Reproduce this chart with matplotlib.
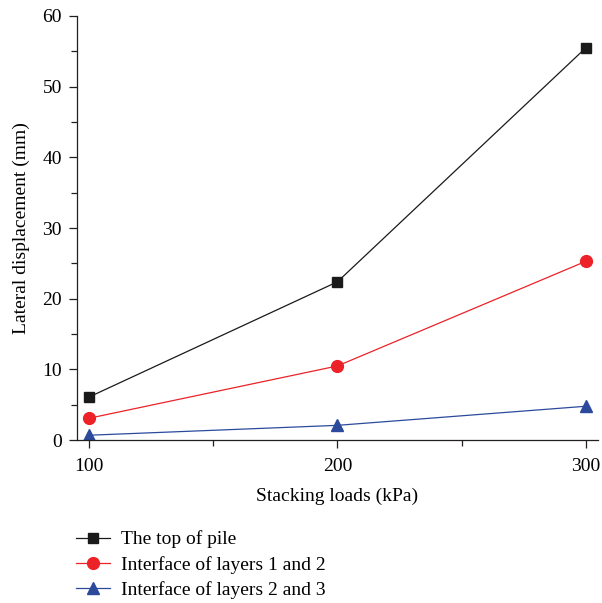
import matplotlib.pyplot as plt
from matplotlib.ticker import MultipleLocator

plt.rcParams['font.family'] = ['Liberation Serif', 'DejaVu Serif']
plt.rcParams['font.size'] = 14

# stacking load (kPa) vs lateral displacement (mm)
loads = [100, 200, 300]
top_of_pile = [6.1, 22.4, 55.5]
layers_1_2 = [3.1, 10.5, 25.3]
layers_2_3 = [0.7, 2.1, 4.8]

fig = plt.figure(figsize=(6.02, 6.03), dpi=100)
ax = fig.add_axes([0.128, 0.27, 0.865, 0.7035])

ax.plot(loads, top_of_pile, color='#1a1a1a', marker='s', markersize=7.5, lw=0.9,
        label='The top of pile')
ax.plot(loads, layers_1_2, color='#ec2228', marker='o', markersize=8.5, lw=0.9,
        label='Interface of layers 1 and 2')
ax.plot(loads, layers_2_3, color='#2b4a9c', marker='^', markersize=8.5, lw=0.9,
        label='Interface of layers 2 and 3')

ax.set_xlim(95.2, 304.8)
ax.set_ylim(0, 60)
ax.xaxis.set_major_locator(MultipleLocator(100))
ax.xaxis.set_minor_locator(MultipleLocator(50))
ax.yaxis.set_major_locator(MultipleLocator(10))
ax.yaxis.set_minor_locator(MultipleLocator(5))
ax.tick_params(which='both', direction='out', color='#231f20', width=0.9)
ax.tick_params(which='major', length=6)
ax.tick_params(which='minor', length=4)
ax.tick_params(axis='x', pad=7)
ax.tick_params(axis='y', pad=5)

for side in ['top', 'right']:
    ax.spines[side].set_visible(False)
for side in ['left', 'bottom']:
    ax.spines[side].set_linewidth(0.9)
    ax.spines[side].set_color('#231f20')

ax.set_xlabel('Stacking loads (kPa)', labelpad=9)
ax.set_ylabel('Lateral displacement (mm)', labelpad=9)

fig.legend(loc='upper left', bbox_to_anchor=(0.113, 0.133), frameon=False,
           handlelength=1.75, labelspacing=0.38, handletextpad=0.55,
           borderaxespad=0)

fig.savefig('out.png', dpi=100)
